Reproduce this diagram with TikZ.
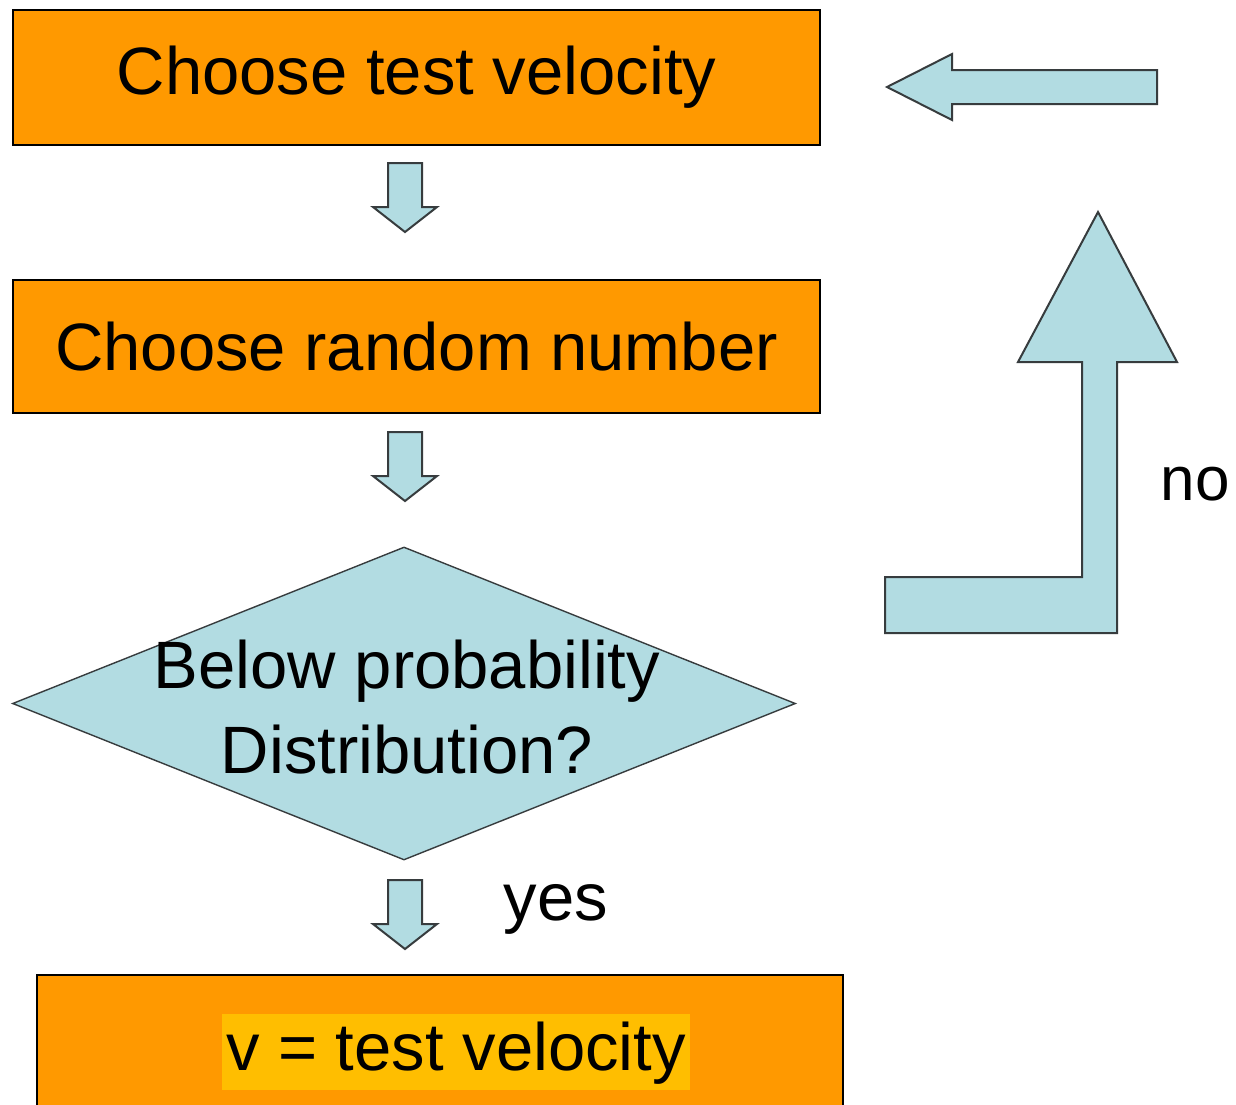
\documentclass[tikz,border=0pt]{standalone}
\usepackage{fontspec}
\setmainfont{Liberation Sans}
\usetikzlibrary{shapes.geometric}
\definecolor{boxorange}{RGB}{255,153,0}
\definecolor{arrowblue}{RGB}{178,220,226}
\definecolor{hilite}{RGB}{255,190,0}
\definecolor{edgegray}{RGB}{55,60,62}
\begin{document}
\begin{tikzpicture}[x=0.5pt,y=-0.5pt,
  font=\fontsize{33.5}{42.5}\selectfont,
  procbox/.style={draw=black, line width=1pt, fill=boxorange, inner sep=0pt},
  decbox/.style={diamond, draw=edgegray, line width=0.7pt, fill=arrowblue, inner sep=0pt},
  blk/.style={draw=edgegray, line width=1pt, fill=arrowblue, line join=miter},
  downblk/.pic={\draw[blk] (-17,0) -- (17,0) -- (17,44) -- (32,44) -- (0,69) -- (-32,44) -- (-17,44) -- cycle;},
  lbl/.style={inner sep=0pt}
]
\useasboundingbox (0,0) rectangle (1236,1104);
\fill[white] (0,0) rectangle (1236,1104);

% process boxes
\node[procbox, minimum width=403.5pt, minimum height=67.5pt] (b1) at (416.5,77.5) {Choose test velocity};
\node[procbox, minimum width=403.5pt, minimum height=66.5pt] (b2) at (416.5,346.5) {Choose random number};
\node[procbox, minimum width=403pt, minimum height=75pt] (b3) at (440,1050) {};
\node[fill=hilite, inner xsep=2pt, inner ysep=2pt, text height=26pt, text depth=8pt] (vt) at (456,1052) {v = test velocity};

% decision
\node[decbox, minimum width=391.5pt, minimum height=156.5pt] (dec) at (404,703.5) {};
\node[lbl, align=center] (dect) at (407,707) {Below probability\\Distribution?};

% small down arrows
\coordinate (a1) at (405,163);
\coordinate (a2) at (405,432);
\coordinate (a3) at (405,880);
\pic at (a1) {downblk};
\pic at (a2) {downblk};
\pic at (a3) {downblk};

% return arrows
\draw[blk] (1157,70) -- (952,70) -- (952,54) -- (887,87) -- (952,120) -- (952,104) -- (1157,104) -- cycle;
\draw[blk] (885,577) -- (1082,577) -- (1082,362) -- (1018,362) -- (1098,212) -- (1177,362) -- (1117,362) -- (1117,633) -- (885,633) -- cycle;

% labels
\node[lbl] (yes) at (556,909) {yes};
\node[lbl, font=\fontsize{31}{38}\selectfont] (no) at (1195,484) {no};
\end{tikzpicture}
\end{document}
